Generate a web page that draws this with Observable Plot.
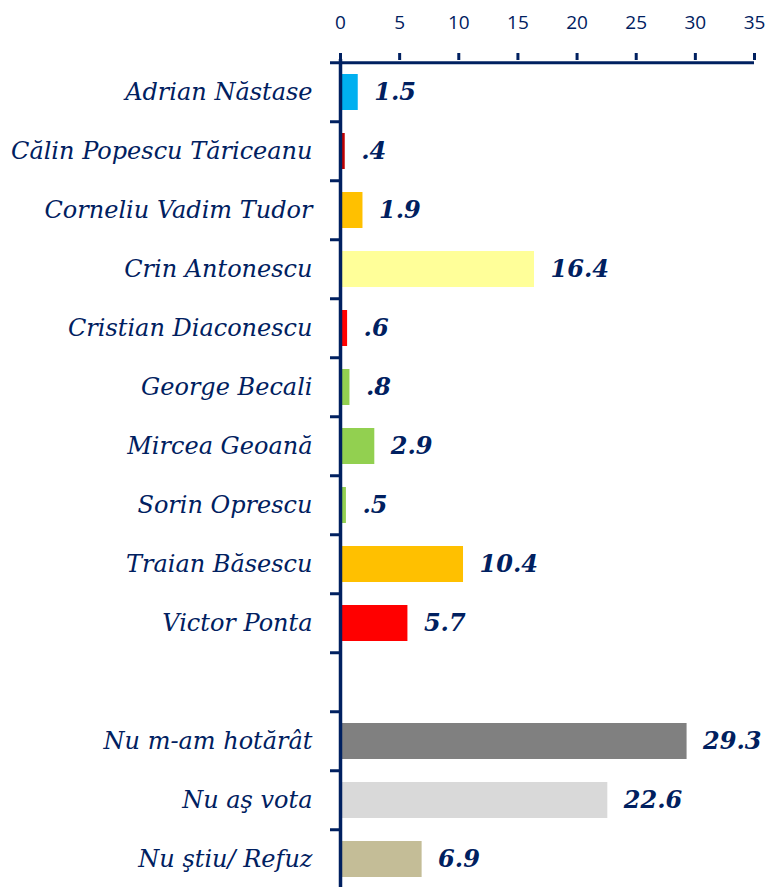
<!DOCTYPE html>
<html>
<head>
<meta charset="utf-8">
<script src="https://cdn.jsdelivr.net/npm/d3@7"></script>
<script src="https://cdn.jsdelivr.net/npm/@observablehq/plot@0.6"></script>
<style>
  html, body { margin: 0; padding: 0; background: #fff; overflow: hidden; }
  #chart svg { display: block; }
</style>
</head>
<body>
<div id="chart"></div>
<script>
const categories = [
  "Adrian Năstase",
  "Călin Popescu Tăriceanu",
  "Corneliu Vadim Tudor",
  "Crin Antonescu",
  "Cristian Diaconescu",
  "George Becali",
  "Mircea Geoană",
  "Sorin Oprescu",
  "Traian Băsescu",
  "Victor Ponta",
  " ",
  "Nu m-am hotărât",
  "Nu aş vota",
  "Nu ştiu/ Refuz"
];
const values = [1.5, 0.4, 1.9, 16.4, 0.6, 0.8, 2.9, 0.5, 10.4, 5.7, null, 29.3, 22.6, 6.9];
const colors = ["#00B0F0", "#C00000", "#FFC000", "#FFFF99", "#FF0000", "#92D050", "#92D050", "#92D050", "#FFC000", "#FF0000", "#FFFFFF", "#808080", "#D9D9D9", "#C4BD97"];
const xTicks = [0, 5, 10, 15, 20, 25, 30, 35];

const navy = "#002060";
const data = categories.map((c, i) => ({name: c, value: values[i], color: colors[i]}))
  .filter(d => d.value != null);

const yTop = 59, yBottom = 892;
const step = (yBottom - yTop) / categories.length;

const chart = Plot.plot({
  width: 769,
  height: 887,
  marginTop: yTop,
  marginBottom: 0,
  marginLeft: 340,
  marginRight: 15,
  x: {domain: [0, 35]},
  y: {domain: categories, range: [yTop, yBottom], paddingInner: 0.39, paddingOuter: 0.195, align: 0.5},
  marks: [
    Plot.barX(data, {x: "value", y: "name", fill: "color"}),
    Plot.text(data, {
      x: "value", y: "name",
      text: d => String(d.value).replace(/^0\./, "."),
      dx: 16, textAnchor: "start",
      fill: navy, fontSize: 24, fontWeight: "bold", fontStyle: "italic",
      fontFamily: "DejaVu Serif"
    }),
    Plot.axisX({
      anchor: "top", ticks: xTicks, tickSize: 7, tickPadding: 24,
      stroke: navy, strokeWidth: 3, fill: navy,
      fontSize: 19, fontFamily: "Open Sans", label: null
    }),
    Plot.axisY({
      ticks: categories, tickSize: 10, tickFormat: () => "",
      dy: -step / 2, stroke: navy, strokeWidth: 3, label: null
    }),
    Plot.axisY({
      ticks: categories, tickSize: 0, tickPadding: 28,
      fill: navy, fontSize: 24, fontStyle: "italic",
      fontFamily: "DejaVu Serif", label: null
    }),
    Plot.ruleY([categories[0]], {
      x1: 0, x2: 35, dy: -step / 2, stroke: navy, strokeWidth: 3
    }),
    Plot.ruleX([0], {stroke: navy, strokeWidth: 3.5})
  ]
});
document.getElementById("chart").appendChild(chart);
</script>
</body>
</html>
